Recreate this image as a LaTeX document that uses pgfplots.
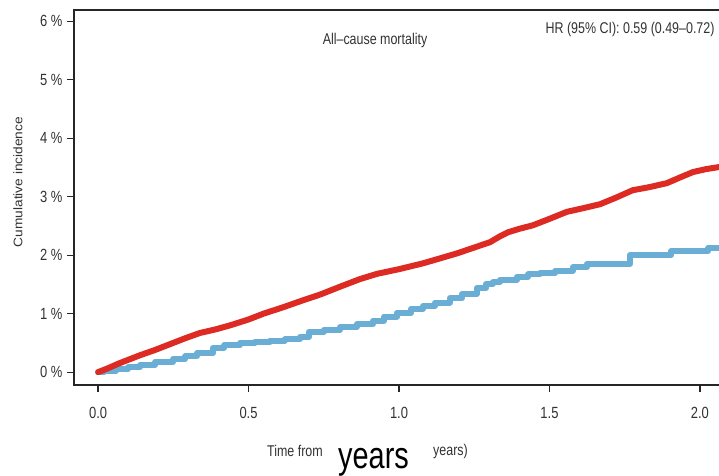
\documentclass[border=0pt]{standalone}
\usepackage{pgfplots}
\pgfplotsset{compat=1.18}
\usepackage{fontspec}
\setmainfont{Liberation Sans}
\usepackage{graphicx}
\definecolor{cred}{RGB}{221,43,36}
\definecolor{cblue}{RGB}{106,174,214}
\definecolor{txt}{RGB}{50,50,50}
\newcommand\st[1]{\scalebox{1}[1.25]{#1}}
\begin{document}
\begin{tikzpicture}
\begin{axis}[
  at={(74bp,91bp)}, anchor=south west,
  scale only axis, width=650bp, height=375bp,
  xmin=-0.08, xmax=2.08, ymin=-0.22, ymax=6.19,
  axis line style={line width=1.2bp, black!85},
  tick style={line width=1.2bp, black!85},
  tick align=outside, major tick length=7bp,
  xtick={0,0.5,1,1.5,2}, xticklabels={\st{0.0},\st{0.5},\st{1.0},\st{1.5},\st{2.0}},
  ytick={0,1,2,3,4,5,6}, yticklabels={\st{0 \%},\st{1 \%},\st{2 \%},\st{3 \%},\st{4 \%},\st{5 \%},\st{6 \%}},
  xtick pos=bottom, ytick pos=left,
  xticklabel style={font=\fontsize{13}{15}\selectfont, text=txt, yshift=-12bp},
  yticklabel style={font=\fontsize{13}{15}\selectfont, text=txt, xshift=-1bp},
  clip=true,
]
\addplot[const plot, color=cblue, line width=6bp, line cap=round, line join=round] coordinates {
(0,0)(0.02,0.02)(0.06,0.05)(0.10,0.08)(0.14,0.12)(0.19,0.17)(0.249,0.22)(0.29,0.27)(0.329,0.32)(0.382,0.42)(0.42,0.46)(0.472,0.50)(0.52,0.52)(0.571,0.54)(0.62,0.56)(0.671,0.60)(0.70,0.69)(0.75,0.72)(0.804,0.77)(0.86,0.82)(0.914,0.88)(0.95,0.95)(0.993,1.01)(1.04,1.08)(1.080,1.13)(1.12,1.19)(1.169,1.26)(1.21,1.34)(1.259,1.44)(1.29,1.51)(1.312,1.54)(1.336,1.58)(1.392,1.63)(1.43,1.67)(1.468,1.69)(1.52,1.73)(1.578,1.79)(1.625,1.85)(1.767,2.0)(1.905,2.07)(2.028,2.12)(2.08,2.12)
};
\addplot[color=cred, line width=6bp, line cap=round, line join=round] coordinates {
(0,0)(0.03,0.06)(0.07,0.15)(0.11,0.23)(0.14,0.29)(0.19,0.38)(0.24,0.48)(0.29,0.58)(0.339,0.67)(0.39,0.73)(0.439,0.80)(0.50,0.90)(0.55,1.00)(0.61,1.10)(0.671,1.21)(0.74,1.33)(0.804,1.46)(0.87,1.59)(0.927,1.68)(1.00,1.76)(1.080,1.86)(1.14,1.95)(1.193,2.03)(1.25,2.13)(1.302,2.22)(1.335,2.32)(1.362,2.39)(1.40,2.45)(1.445,2.51)(1.50,2.62)(1.558,2.74)(1.61,2.80)(1.668,2.87)(1.72,2.98)(1.777,3.11)(1.83,3.16)(1.890,3.23)(1.935,3.33)(1.977,3.42)(2.02,3.47)(2.057,3.50)(2.08,3.52)
};
\end{axis}
\node[anchor=east, text=txt, font=\fontsize{12.5}{14}\selectfont] at (718bp,447bp) {\st{HR (95\% CI): 0.59 (0.49–0.72)}};
\node[text=txt, font=\fontsize{12.5}{14}\selectfont] at (375bp,436bp) {\st{All–cause mortality}};
\node[rotate=90, text=txt, font=\fontsize{12.5}{14}\selectfont] at (18bp,294bp) {\scalebox{1.1}[1]{Cumulative incidence}};
\node[anchor=west, text=txt, font=\fontsize{12.5}{14}\selectfont, inner sep=0pt] at (267bp,25bp) {\st{Time from}};
\node[anchor=west, text=txt, font=\fontsize{12.5}{14}\selectfont, inner sep=0pt] at (433bp,25bp) {\st{years)}};
\node[anchor=base west, fill=white, inner xsep=0pt, inner ysep=2bp, font=\fontsize{29}{32}\selectfont] at (338bp,8bp) {\scalebox{1}[1.3]{years}};
\pgfresetboundingbox
\useasboundingbox (0,0) rectangle (719bp,476bp);
\end{tikzpicture}
\end{document}
